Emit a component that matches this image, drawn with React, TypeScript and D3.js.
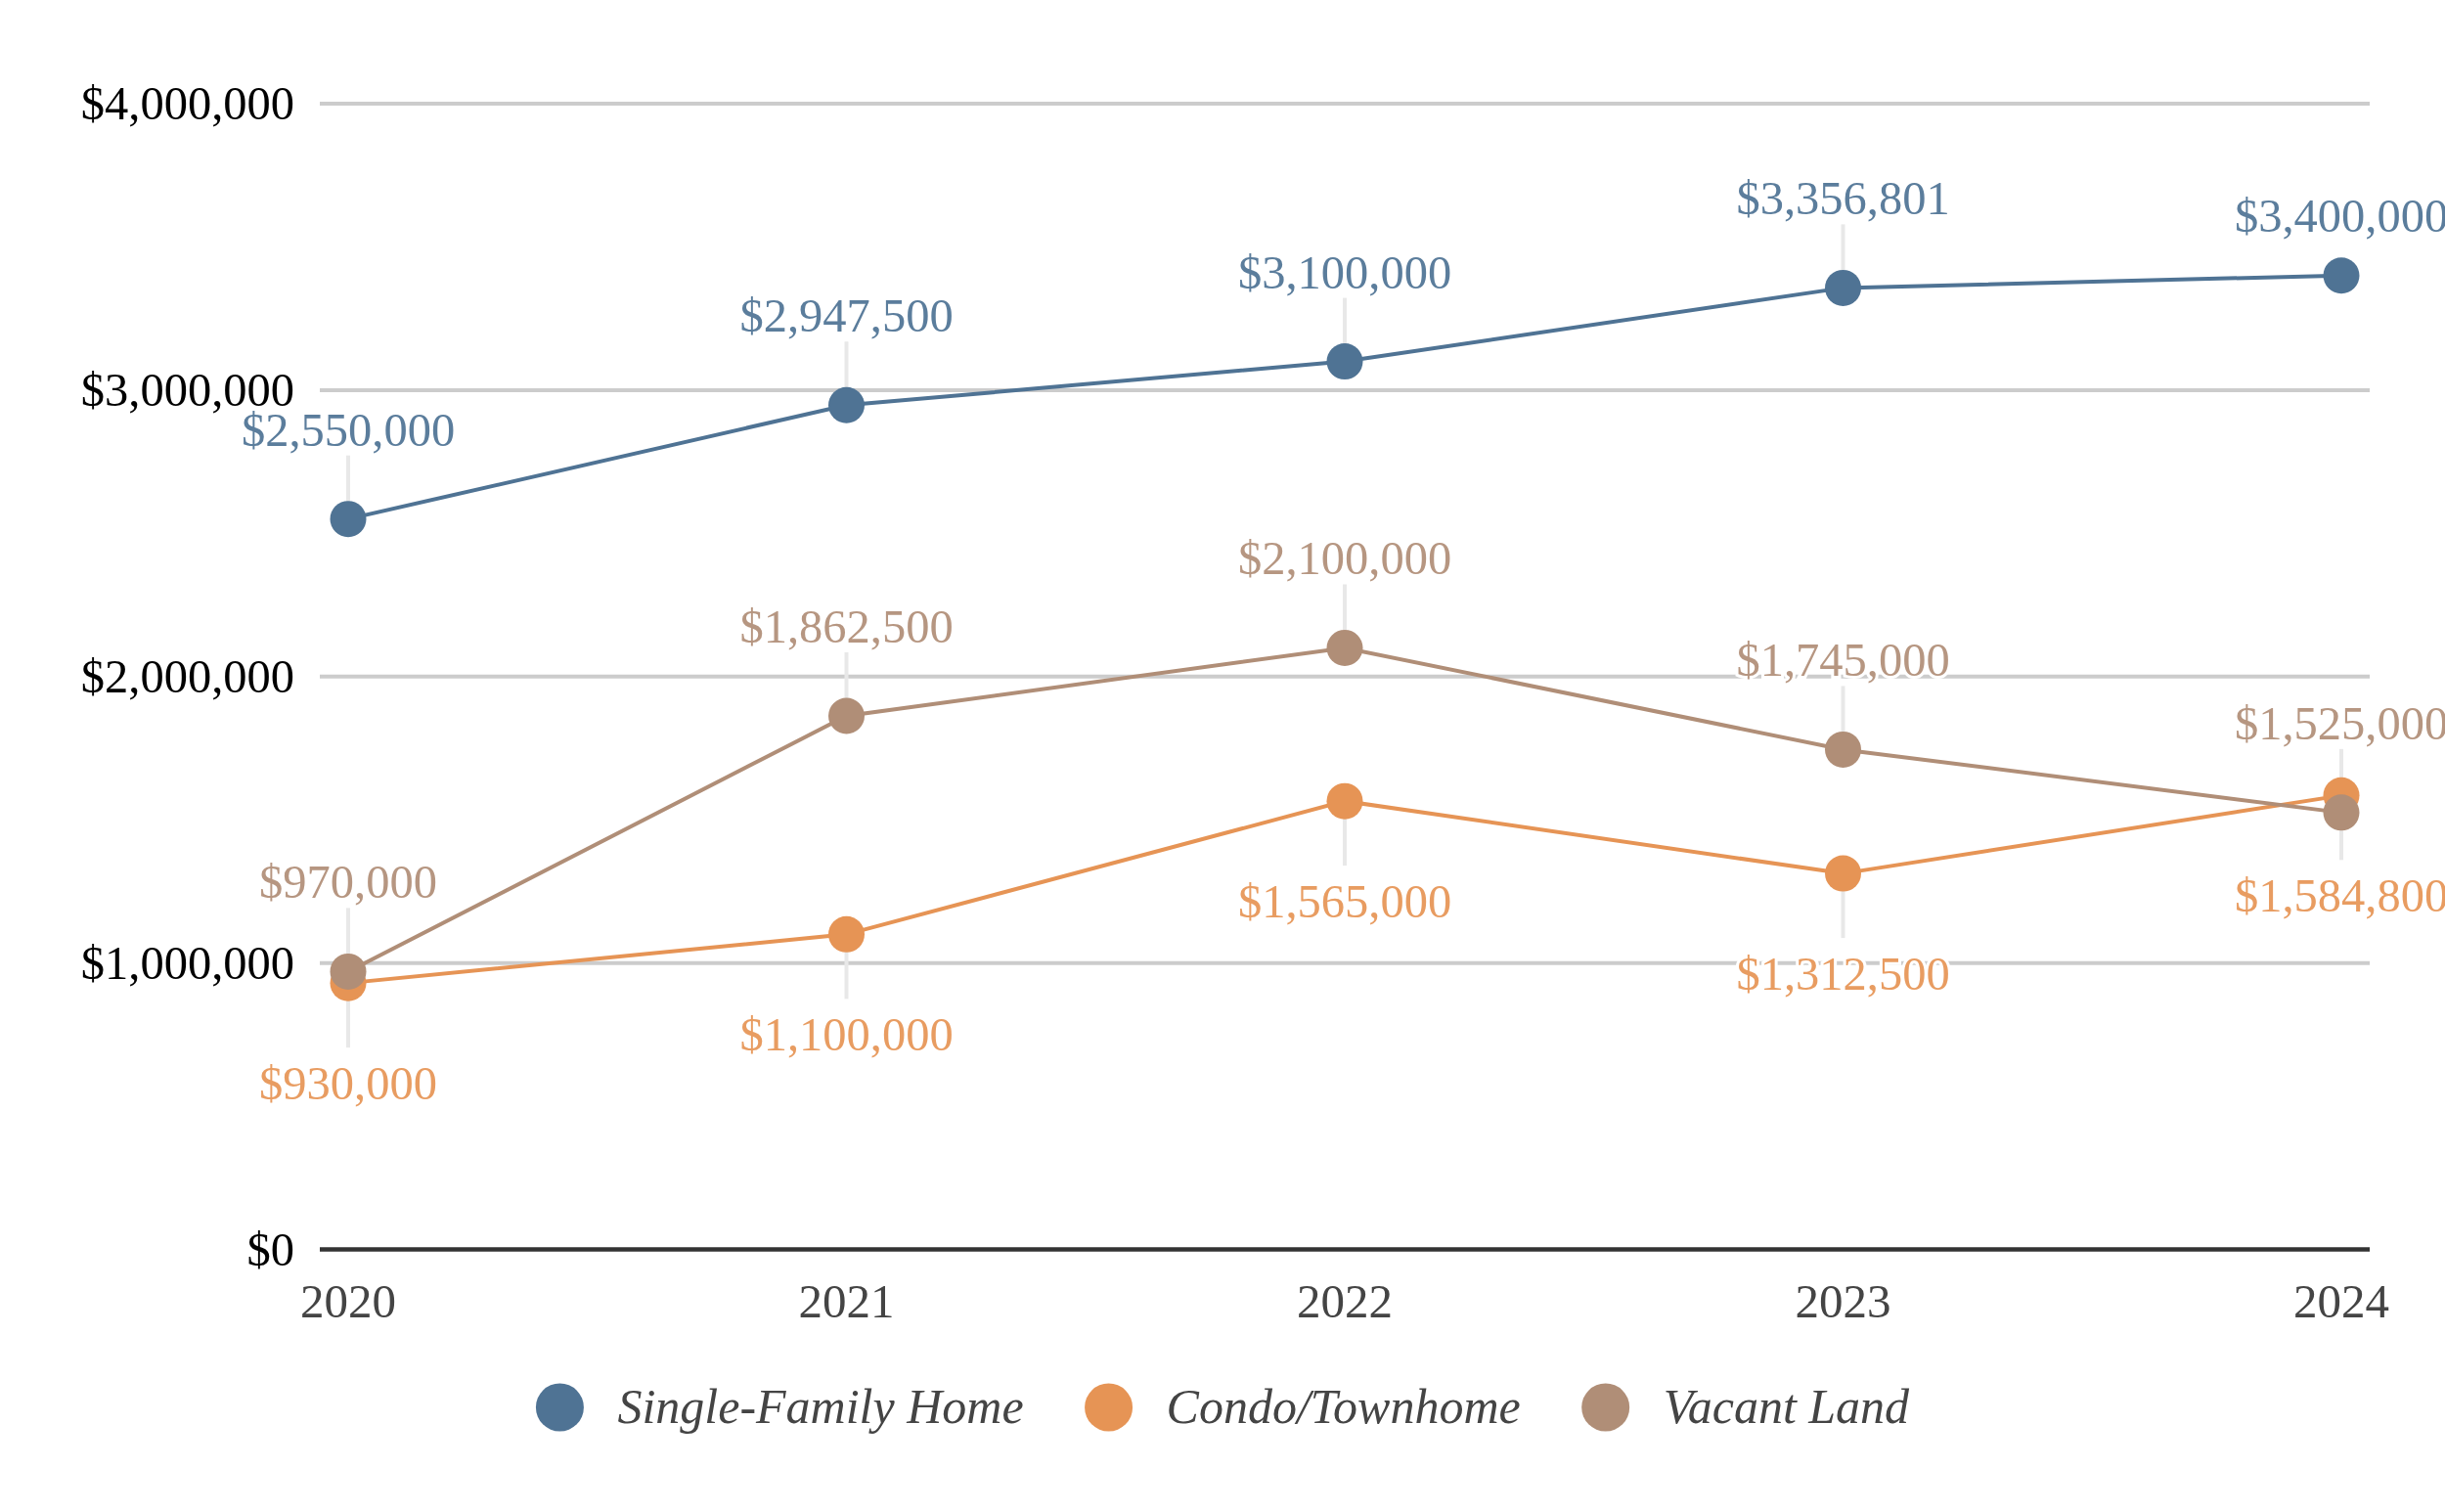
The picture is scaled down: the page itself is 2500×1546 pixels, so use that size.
import { useEffect, useRef } from "react"
import * as d3 from "d3"

const years = ["2020", "2021", "2022", "2023", "2024"]
const seriesNames = ["Single-Family Home", "Condo/Townhome", "Vacant Land"]
const singleFamily = [2550000, 2947500, 3100000, 3356801, 3400000]
const condo = [930000, 1100000, 1565000, 1312500, 1584800]
const vacantLand = [970000, 1862500, 2100000, 1745000, 1525000]
const yTicks = [0, 1000000, 2000000, 3000000, 4000000]

const colors = ["#4f7394", "#e69455", "#b08e77"]
// which side of the point the value label sits
const labelSide = ["above", "below", "above"]

const W = 2500
const H = 1546
const FONT = '"Liberation Serif", "Times New Roman", Times, serif'

export default function App() {
  const svgRef = useRef<SVGSVGElement>(null)

  useEffect(() => {
    if (!svgRef.current) return
    document.body.style.margin = "0"
    const svg = d3.select(svgRef.current)
    svg.selectAll("*").remove()

    const plotLeft = 327
    const plotRight = 2423

    const x = d3.scalePoint<string>().domain(years).range([356, 2394])
    const y = d3.scaleLinear().domain([0, 4000000]).range([1277.5, 106])

    const money = (v: number) => "$" + d3.format(",")(v)

    // the last single-family label sits closer to its point, with no leader
    const isTight = (si: number, i: number) => si === 0 && i === years.length - 1

    // grid lines
    const grid = svg.append("g")
    yTicks.forEach((t) => {
      grid
        .append("line")
        .attr("x1", plotLeft)
        .attr("x2", plotRight)
        .attr("y1", y(t))
        .attr("y2", y(t))
        .attr("stroke", t === 0 ? "#333333" : "#cccccc")
        .attr("stroke-width", t === 0 ? 4.5 : 4)

      svg
        .append("text")
        .attr("x", 301)
        .attr("y", y(t))
        .attr("dy", "0.33em")
        .attr("text-anchor", "end")
        .attr("font-family", FONT)
        .attr("font-size", 48.5)
        .attr("fill", "#000")
        .text(money(t))
    })

    // x labels
    years.forEach((yr) => {
      svg
        .append("text")
        .attr("x", x(yr)!)
        .attr("y", 1347)
        .attr("text-anchor", "middle")
        .attr("font-family", FONT)
        .attr("font-size", 49)
        .attr("fill", "#444444")
        .text(yr)
    })

    const allSeries = [singleFamily, condo, vacantLand]

    // leader lines first, under everything
    const leaders = svg.append("g")
    allSeries.forEach((vals, si) => {
      vals.forEach((v, i) => {
        if (isTight(si, i)) return
        const py = y(v)
        const up = labelSide[si] === "above"
        leaders
          .append("line")
          .attr("x1", x(years[i])!)
          .attr("x2", x(years[i])!)
          .attr("y1", py)
          .attr("y2", up ? py - 65 : py + 66)
          .attr("stroke", "#e8e8e8")
          .attr("stroke-width", 4)
      })
    })

    const line = d3
      .line<number>()
      .x((_, i) => x(years[i])!)
      .y((d) => y(d))

    allSeries.forEach((vals, si) => {
      const g = svg.append("g")
      g.append("path")
        .datum(vals)
        .attr("d", line)
        .attr("fill", "none")
        .attr("stroke", colors[si])
        .attr("stroke-width", 4)

      g.selectAll("circle")
        .data(vals)
        .enter()
        .append("circle")
        .attr("cx", (_, i) => x(years[i])!)
        .attr("cy", (d) => y(d))
        .attr("r", 18.5)
        .attr("fill", colors[si])
    })

    // value labels on top, with white halo
    allSeries.forEach((vals, si) => {
      const up = labelSide[si] === "above"
      vals.forEach((v, i) => {
        const offset = isTight(si, i) ? -45 : up ? -75 : 119
        svg
          .append("text")
          .attr("x", x(years[i])!)
          .attr("y", y(v) + offset)
          .attr("text-anchor", "middle")
          .attr("font-family", FONT)
          .attr("font-size", 48.5)
          .attr("fill", colors[si])
          .attr("fill-opacity", 0.93)
          .attr("stroke", "#ffffff")
          .attr("stroke-width", 6)
          .attr("paint-order", "stroke")
          .text(money(v))
      })
    })

    // legend
    const legend = svg.append("g")
    const r = 24.5
    const textGap = 59
    const itemGap = 87
    let cursor = 0
    const items: { g: d3.Selection<SVGGElement, unknown, null, undefined>; w: number }[] = []
    seriesNames.forEach((name, si) => {
      const g = legend.append("g")
      g.append("circle").attr("cx", 0).attr("cy", 0).attr("r", r).attr("fill", colors[si])
      const t = g
        .append("text")
        .attr("x", textGap)
        .attr("y", 16)
        .attr("font-family", FONT)
        .attr("font-style", "italic")
        .attr("font-size", 50)
        .attr("fill", "#444444")
        .text(name)
      const tw = (t.node() as SVGTextElement).getComputedTextLength()
      items.push({ g, w: textGap + tw })
    })
    items.forEach((it, i) => {
      it.g.attr("transform", `translate(${cursor},0)`)
      cursor += it.w + (i < items.length - 1 ? itemGap : 0)
    })
    const total = r + cursor
    const startX = W / 2 - total / 2 + r
    legend.attr("transform", `translate(${startX},1439)`)
  }, [])

  return (
    <svg
      ref={svgRef}
      width={W}
      height={H}
      viewBox={`0 0 ${W} ${H}`}
      style={{ display: "block", background: "#ffffff" }}
    />
  )
}
